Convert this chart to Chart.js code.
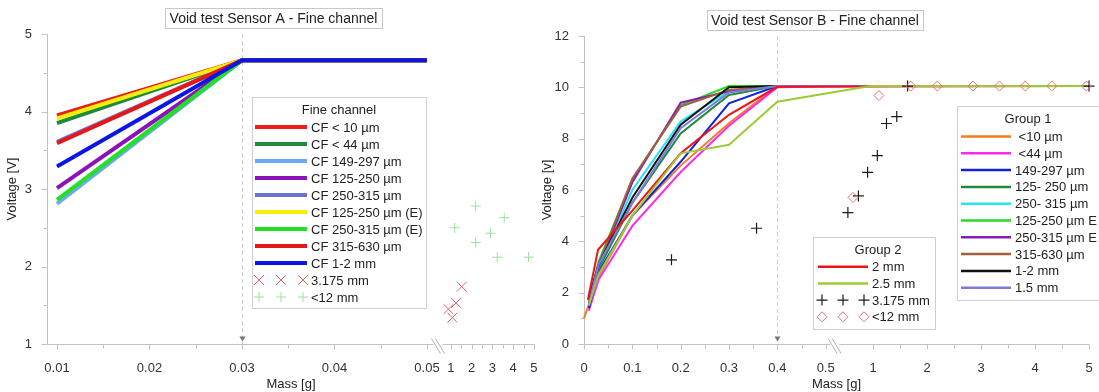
<!DOCTYPE html>
<html><head><meta charset="utf-8">
<script src="https://cdn.jsdelivr.net/npm/chart.js@4.4.1/dist/chart.umd.min.js"></script>
<style>
html,body{margin:0;padding:0;background:#fff;width:1099px;height:392px;overflow:hidden}
#ca{position:absolute;left:0;top:0}
#cb{position:absolute;left:535px;top:0}
</style></head><body>
<canvas id="ca" width="545" height="392"></canvas>
<canvas id="cb" width="564" height="392"></canvas>
<script>
const FONT = '"Liberation Sans", Arial, sans-serif';
const AXIS_COL = '#c2c2c2';
const TXT = '#333';

// ---------------- Sensor A (left) ----------------
const aMass   = [0.01, 0.03, 0.05];
const aCF10   = [3.95, 4.66, 4.66];
const aCF44   = [3.85, 4.66, 4.66];
const aCF149  = [2.81, 4.66, 4.66];
const aCF125  = [3.01, 4.66, 4.66];
const aCF250  = [3.61, 4.66, 4.66];
const aCF125E = [3.91, 4.66, 4.66];
const aCF250E = [2.86, 4.66, 4.66];
const aCF315  = [3.59, 4.66, 4.66];
const aCF1to2 = [3.29, 4.66, 4.66];
const aMass3175 = [1.52, 1.25, 0.88, 1.07];
const aV3175    = [1.74, 1.53, 1.45, 1.34];
const aMass12   = [1.18, 2.19, 2.19, 2.91, 3.57, 3.23, 4.74];
const aV12      = [2.50, 2.78, 2.31, 2.43, 2.63, 2.12, 2.12];
const aXTicks   = [0.01, 0.02, 0.03, 0.04, 0.05, 1, 2, 3, 4, 5];
const aXLabels  = ['0.01','0.02','0.03','0.04','0.05','1','2','3','4','5'];
const aXMinor   = [0.015, 0.025, 0.035, 0.045, 1.5, 2.5, 3.5, 4.5];
const aYMinor   = [1.5, 2.5, 3.5, 4.5];
const aNames = ['CF < 10 µm','CF < 44 µm','CF 149-297 µm','CF 125-250 µm','CF 250-315 µm',
  'CF 125-250 µm (E)','CF 250-315 µm (E)','CF 315-630 µm','CF 1-2 mm','3.175 mm','<12 mm'];
const aColors = ['#ee1b1b','#1f8a3a','#6ea8f2','#8b12b8','#6e72c8','#f4ee08','#24e024','#e81616','#0a16e4'];

// ---------------- Sensor B (right) ----------------
const bMass     = [0.01, 0.03, 0.1, 0.2, 0.3, 0.4, 1, 5];
const bMassLt10 = [0, 0.03, 0.1, 0.2, 0.3, 0.4, 1, 5];
const bMass2mm  = [0.008, 0.029, 0.1, 0.2, 0.3, 0.4, 1, 5];
const bMass25mm = [0.01, 0.03, 0.1, 0.2, 0.3, 0.4, 0.95, 5];
const bLt10   = [1.0, 2.6, 5.0, 6.95, 8.6, 10.05, 10.05, 10.05];
const bLt44   = [1.3, 2.5, 4.6, 6.7, 8.5, 10.0, 10.05, 10.05];
const b149    = [1.4, 2.8, 5.0, 7.1, 9.38, 10.05, 10.05, 10.05];
const b125    = [1.5, 2.9, 5.5, 8.2, 9.7, 10.05, 10.05, 10.05];
const b250    = [1.5, 3.0, 6.0, 8.67, 9.85, 10.05, 10.05, 10.05];
const b125E   = [1.6, 3.2, 6.4, 9.3, 10.05, 10.05, 10.05, 10.05];
const b250E   = [1.5, 3.0, 6.3, 9.4, 9.85, 10.05, 10.05, 10.05];
const b315    = [1.5, 3.1, 6.45, 9.25, 9.9, 10.05, 10.05, 10.05];
const b1to2   = [1.79, 3.1, 5.7, 8.54, 10.0, 10.05, 10.05, 10.05];
const b15mm   = [1.6, 3.1, 5.5, 8.41, 9.8, 10.05, 10.05, 10.05];
const b2mm    = [1.72, 3.67, 5.2, 7.43, 8.93, 10.02, 10.03, 10.05];
const b25mm   = [1.5, 2.7, 5.0, 7.43, 7.76, 9.44, 10.05, 10.05];
const bMass3175 = [0.181, 0.357, 0.535, 0.73, 0.90, 1.08, 1.25, 1.44, 1.64, 5.0];
const bV3175    = [3.28, 4.51, 5.12, 5.77, 6.69, 7.34, 8.59, 8.86, 10.05, 10.05];
const bMass12   = [0.63, 1.11, 1.70, 2.19, 2.85, 3.34, 3.82, 4.31, 4.95];
const bV12      = [5.71, 9.68, 10.05, 10.05, 10.05, 10.05, 10.05, 10.05, 10.05];
const bXTicks   = [0, 0.1, 0.2, 0.3, 0.4, 0.5, 1, 2, 3, 4, 5];
const bXLabels  = ['0','0.1','0.2','0.3','0.4','0.5','1','2','3','4','5'];
const bXMinor   = [0.05, 0.15, 0.25, 0.35, 0.45, 1.5, 2.5, 3.5, 4.5];
const bYMinor   = [1, 3, 5, 7, 9, 11];
const bNames1 = [' <10 µm',' <44 µm','149-297 µm','125- 250 µm','250- 315 µm','125-250 µm E','250-315 µm E','315-630 µm','1-2 mm','1.5 mm'];
const bNames2 = ['2 mm','2.5 mm','3.175 mm','<12 mm'];
const bColors1 = ['#f07d22','#ff28ee','#1222dc','#1f8a3c','#26e4ee','#26dc26','#8a1cb6','#a06238','#111111','#7c7ce0'];
const bColors2 = ['#ee1414','#9ccb3a'];

// broken-axis mappings (real mass -> position along the drawn axis)
function mapA(x){ return x <= 0.06 ? (x - 0.01) * 100 : 4.259 + (x - 1) * 0.2243; }
function mapB(x){ return x <= 0.5 ? x : 0.5979 + (x - 1) * 0.11173; }

function lineDS(label, xs, ys, color, width, map, order){
  return {label, data: xs.map((x,i)=>({x: map(x), y: ys[i]})), showLine: true,
    borderColor: color, backgroundColor: color, borderWidth: width, pointRadius: 0,
    pointHoverRadius: 0, tension: 0, clip: false, order};
}
function markDS(label, xs, ys, style, color, r, w, map, order){
  return {label, data: xs.map((x,i)=>({x: map(x), y: ys[i]})), showLine: false,
    pointStyle: style, pointRadius: r, pointHoverRadius: r, borderColor: color,
    backgroundColor: 'rgba(0,0,0,0)', pointBorderColor: color,
    pointBackgroundColor: 'rgba(0,0,0,0)', pointBorderWidth: w, borderWidth: w, clip: false, order};
}

function seg(ctx, x1, y1, x2, y2){ ctx.beginPath(); ctx.moveTo(x1,y1); ctx.lineTo(x2,y2); ctx.stroke(); }

const deco = {
  id: 'deco',
  beforeDatasetsDraw(chart, args, o){
    const ctx = chart.ctx, xs = chart.scales.x, ys = chart.scales.y, ca = chart.chartArea;
    ctx.save();
    ctx.strokeStyle = AXIS_COL; ctx.lineWidth = 1;
    const L = Math.round(ca.left) + 0.5, B = Math.round(ca.bottom) + 0.5;
    seg(ctx, L, ca.top, L, B);
    seg(ctx, L, B, ca.right, B);
    o.majorX.forEach(v=>{ const p = Math.round(xs.getPixelForValue(o.map(v)))+0.5; seg(ctx,p,B,p,B+5); });
    o.minorX.forEach(v=>{ const p = Math.round(xs.getPixelForValue(o.map(v)))+0.5; seg(ctx,p,B,p,B+4); });
    ys.ticks.forEach(t=>{ const p = Math.round(ys.getPixelForValue(t.value))+0.5; seg(ctx,L-6,p,L,p); });
    o.minorY.forEach(v=>{ const p = Math.round(ys.getPixelForValue(v))+0.5; seg(ctx,L-4,p,L,p); });
    // dashed marker line
    const dx = Math.round(xs.getPixelForValue(o.map(o.dashAt)))+0.5;
    ctx.setLineDash([4,3]); ctx.strokeStyle = '#d0d0d0';
    seg(ctx, dx, ca.top, dx, B);
    ctx.setLineDash([]);
    ctx.fillStyle = '#777';
    ctx.beginPath(); ctx.moveTo(dx-3, B-8); ctx.lineTo(dx+3, B-8); ctx.lineTo(dx, B-3); ctx.closePath(); ctx.fill();
    // axis break
    const p0 = xs.getPixelForValue(o.map(o.breakFrom)), p1 = xs.getPixelForValue(o.map(o.breakTo));
    const bx = p0 + o.breakFrac * (p1 - p0);
    ctx.fillStyle = '#fff'; ctx.fillRect(bx-5, B-2, 9, 4);
    ctx.strokeStyle = '#b0b0b0';
    seg(ctx, bx-7, B-6, bx+2, B+9);
    seg(ctx, bx-3, B-6, bx+6, B+9);
    ctx.restore();
  },
  afterDatasetsDraw(chart, args, o){
    const ctx = chart.ctx;
    ctx.save();
    // title box
    const t = o.title;
    ctx.fillStyle = '#fff'; ctx.fillRect(t.x0, t.y0, t.x1-t.x0, t.y1-t.y0);
    ctx.strokeStyle = '#c8c8c8'; ctx.lineWidth = 1;
    ctx.strokeRect(t.x0+0.5, t.y0+0.5, t.x1-t.x0, t.y1-t.y0);
    ctx.font = '14px ' + FONT; ctx.fillStyle = '#222'; ctx.textAlign = 'center'; ctx.textBaseline = 'middle';
    ctx.fillText(t.text, (t.x0+t.x1)/2, (t.y0+t.y1)/2+1);
    // legends
    o.legends.forEach(lg=>{
      ctx.fillStyle = '#fff'; ctx.fillRect(lg.x, lg.y, lg.w, lg.h);
      ctx.strokeStyle = '#cfcfcf'; ctx.lineWidth = 1;
      ctx.strokeRect(lg.x+0.5, lg.y+0.5, lg.w, lg.h);
      ctx.font = '13px ' + FONT; ctx.fillStyle = '#222'; ctx.textBaseline = 'middle';
      ctx.textAlign = 'center'; ctx.fillText(lg.title, lg.titleX, lg.titleY);
      ctx.textAlign = 'left';
      lg.items.forEach((idx,k)=>{
        const ds = chart.data.datasets[idx];
        const yy = lg.rowY + k*lg.step;
        if (ds.showLine){
          ctx.strokeStyle = ds.borderColor; ctx.lineWidth = lg.lw; ctx.lineCap = 'butt';
          seg(ctx, lg.sx0, yy, lg.sx1, yy);
        } else {
          const opts = {pointStyle: ds.pointStyle, radius: ds.pointRadius, borderWidth: ds.pointBorderWidth};
          ctx.strokeStyle = ds.pointBorderColor; ctx.fillStyle = 'rgba(0,0,0,0)'; ctx.lineWidth = ds.pointBorderWidth;
          [lg.sx0+4, (lg.sx0+lg.sx1)/2, lg.sx1-4].forEach(px=> Chart.helpers.drawPoint(ctx, opts, px, yy));
        }
        ctx.fillStyle = '#222';
        ctx.fillText(lg.names[k], lg.tx, yy+1);
      });
    });
    ctx.restore();
  }
};

function axisCfg(ticksV, labelsV, map, min, max, ymin, ymax, ystep, ytitle, yw){
  return {
    x: {type:'linear', min, max, grid:{display:false, drawTicks:false}, border:{display:false},
      afterBuildTicks: s => { s.ticks = ticksV.map(v=>({value: map(v)})); },
      afterFit: s => { s.height = 48; s.paddingLeft = 0; s.paddingRight = 0; },
      ticks:{autoSkip:false, maxRotation:0, padding:17, color:TXT, font:{family:FONT, size:13},
        callback:(v,i)=>labelsV[i]},
      title:{display:true, text:'Mass [g]', color:'#222', font:{family:FONT, size:13}, padding:{top:0,bottom:0}}},
    y: {type:'linear', min:ymin, max:ymax, grid:{display:false, drawTicks:false}, border:{display:false},
      afterFit: s => { s.width = yw; s.paddingTop = 0; s.paddingBottom = 0; },
      ticks:{stepSize:ystep, padding:15, color:TXT, font:{family:FONT, size:13}},
      title:{display:true, text:ytitle, color:'#222', font:{family:FONT, size:13}, padding:{top:5,bottom:0}}}
  };
}

// ---- Chart A
const dsA = [aCF10,aCF44,aCF149,aCF125,aCF250,aCF125E,aCF250E,aCF315,aCF1to2]
  .map((ys,i)=>lineDS(aNames[i], aMass, ys, aColors[i], 4, mapA, -i));
dsA.push(markDS(aNames[9], aMass3175, aV3175, 'crossRot', '#e06262', 7, 1, mapA, -20));
dsA.push(markDS(aNames[10], aMass12, aV12, 'cross', '#9ee09e', 5, 1, mapA, -21));

new Chart(document.getElementById('ca'), {
  type:'scatter',
  data:{datasets: dsA},
  options:{
    responsive:false, animation:false, events:[], devicePixelRatio:1,
    layout:{padding:{top:34, right:10, left:0, bottom:0}},
    plugins:{legend:{display:false}, tooltip:{enabled:false},
      deco:{map:mapA, majorX:aXTicks, minorX:aXMinor, minorY:aYMinor, dashAt:0.03,
        breakFrom:0.05, breakTo:1, breakFrac:0.48,
        title:{text:'Void test Sensor A - Fine channel', x0:165, x1:382, y0:8, y1:28},
        legends:[{x:252, y:97, w:174, h:211, title:'Fine channel', titleX:339, titleY:110,
          rowY:127, step:17, sx0:255, sx1:307, tx:311, lw:4,
          items:[0,1,2,3,4,5,6,7,8,9,10], names:aNames}]}},
    scales: axisCfg(aXTicks, aXLabels, mapA, -0.108, 5.168, 1, 5, 1, 'Voltage [V]', 47)
  },
  plugins:[deco]
});

// ---- Chart B
const bSeries1 = [bLt10,bLt44,b149,b125,b250,b125E,b250E,b315,b1to2,b15mm];
const dsB = bSeries1.map((ys,i)=>lineDS(bNames1[i], i===0 ? bMassLt10 : bMass, ys, bColors1[i], 2, mapB, -i));
dsB.push(lineDS(bNames2[0], bMass2mm, b2mm, bColors2[0], 2, mapB, -10));
dsB.push(lineDS(bNames2[1], bMass25mm, b25mm, bColors2[1], 2, mapB, -11));
dsB.push(markDS(bNames2[2], bMass3175, bV3175, 'cross', '#1a1a1a', 5.5, 1.2, mapB, -20));
dsB.push(markDS(bNames2[3], bMass12, bV12, 'rectRot', '#e07272', 5, 1, mapB, -21));

const OX = 535;
new Chart(document.getElementById('cb'), {
  type:'scatter',
  data:{datasets: dsB},
  options:{
    responsive:false, animation:false, events:[], devicePixelRatio:1,
    layout:{padding:{top:36, right:10, left:0, bottom:0}},
    plugins:{legend:{display:false}, tooltip:{enabled:false},
      deco:{map:mapB, majorX:bXTicks, minorX:bXMinor, minorY:bYMinor, dashAt:0.4,
        breakFrom:0.5, breakTo:1, breakFrac:0.2,
        title:{text:'Void test Sensor B - Fine channel', x0:707-OX, x1:923-OX, y0:10, y1:30},
        legends:[
          {x:957-OX, y:106, w:160, h:194, title:'Group 1', titleX:1028-OX, titleY:119,
            rowY:136.5, step:16.8, sx0:961-OX, sx1:1011-OX, tx:1015-OX, lw:2.5,
            items:[0,1,2,3,4,5,6,7,8,9], names:bNames1},
          {x:813-OX, y:237, w:122, h:92, title:'Group 2', titleX:878-OX, titleY:250,
            rowY:266.7, step:16.7, sx0:818-OX, sx1:868-OX, tx:872-OX, lw:2.5,
            items:[10,11,12,13], names:bNames2}]}},
    scales: axisCfg(bXTicks, bXLabels, mapB, 0, 1.0448, 0, 12, 2, 'Voltage [v]', 49)
  },
  plugins:[deco]
});
</script>
</body></html>
